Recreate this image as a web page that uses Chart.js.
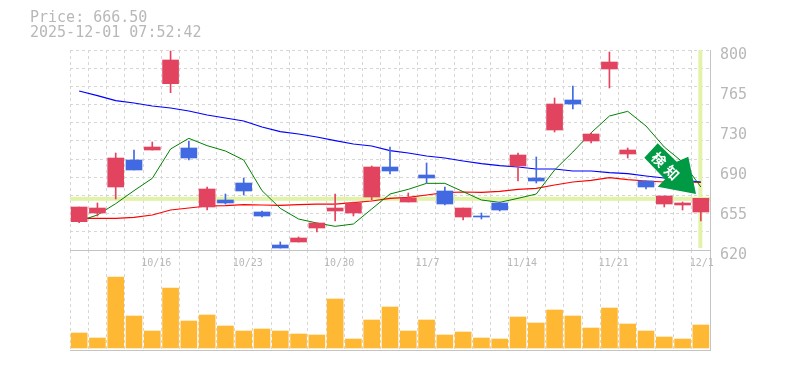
<!DOCTYPE html>
<html>
<head>
<meta charset="utf-8">
<script src="https://cdn.jsdelivr.net/npm/chart.js@4/dist/chart.umd.js"></script>
<style>
    html, body { margin: 0; padding: 0; background: #fff; }
    #wrap { position: relative; width: 785px; height: 370px; overflow: hidden; }
    #wrap canvas { position: absolute; left: 0; }
    #priceChart { top: 0; z-index: 2; }
    #volumeChart { top: 250px; z-index: 1; }
    #info {
        position: absolute; left: 30px; top: 10px; z-index: 3;
        font: 15px/15px "DejaVu Sans Mono", monospace; color: #b8b8b8; white-space: pre;
    }
</style>
</head>
<body>
<div id="wrap">
    <div id="info">Price: 666.50
2025-12-01 07:52:42</div>
    <canvas id="volumeChart" width="785" height="120"></canvas>
    <canvas id="priceChart" width="785" height="275"></canvas>
</div>
<script>
const categories = ["10/9", "10/10", "10/14", "10/15", "10/16", "10/17", "10/20", "10/21", "10/22", "10/23", "10/24", "10/27", "10/28", "10/29", "10/30", "10/31", "11/4", "11/5", "11/6", "11/7", "11/10", "11/11", "11/12", "11/13", "11/14", "11/17", "11/18", "11/19", "11/20", "11/21", "11/25", "11/26", "11/27", "11/28", "12/1"];
const dateLabels = ["10/16", "10/23", "10/30", "11/7", "11/14", "11/21", "12/1"];

const opens = [645.5, 653.3, 676.7, 701, 710, 769.7, 711.8, 658.7, 665, 680.3, 654.2, 624.5, 627.2, 639.8, 655.1, 653.3, 667.7, 694.7, 663.2, 687.5, 673.1, 649.7, 650.6, 662.3, 695.6, 684.8, 728, 755, 718.1, 782.9, 706.4, 682.1, 661.4, 660.5, 654.2];
const closes = [658.7, 657.8, 702.8, 692, 712.7, 791, 702.8, 674.9, 662.3, 673.1, 650.6, 621.8, 630.8, 644.3, 657.8, 662.3, 694.7, 691.1, 666.8, 684.8, 661.4, 657.8, 649.7, 656, 705.5, 682.1, 751.4, 751.4, 724.4, 789.2, 710, 676.7, 668.6, 662.3, 666.5];
const highs = [658.7, 662.3, 707.3, 710, 717.2, 799.1, 718.1, 676.7, 670.4, 684.8, 655.1, 627.2, 631.7, 644.3, 670.4, 663.2, 695.6, 712.7, 671.3, 698.3, 676.7, 657.8, 653.3, 663.2, 707.3, 703.7, 756.8, 767.6, 725.3, 798.2, 711.8, 682.1, 668.6, 663.2, 666.5];
const lows = [644.6, 650.6, 665.9, 692, 710, 761.6, 701, 656, 661.4, 669.5, 649.7, 621.8, 627.2, 636.2, 646.1, 650.6, 665, 688.4, 663.2, 680.3, 660.5, 647, 647.9, 655.1, 682.1, 680.3, 726.2, 746.9, 716.3, 765.8, 702.8, 674.9, 658.7, 656, 646.1];

const longAverage = [763.1, 759, 754.4, 752.3, 749.6, 747.8, 745.1, 741.5, 738.8, 736.1, 730.7, 726.5, 724.4, 721.7, 718.4, 715.4, 713.6, 709.4, 707.3, 704.6, 702.8, 700.1, 697.7, 695.9, 694.7, 692.9, 692.9, 691.1, 691.1, 689.6, 688.7, 686.6, 684.8, 683, 681.2];
const midAverage = [648.4, 648.4, 648.4, 649.4, 651.5, 656, 657.8, 659.6, 659.9, 660.8, 660.5, 660.2, 660.8, 661.2, 661.2, 662.6, 664.1, 666.5, 667.4, 669.5, 671.6, 672.2, 671.9, 672.8, 674.6, 675.5, 678.5, 681.2, 682.6, 685.1, 683.3, 682.1, 681.2, 681.2, 680.8];
const shortAverage = [646.1, 651.5, 661.7, 673.4, 684.5, 710.9, 720.5, 713.9, 709.1, 701, 673.4, 657.5, 647.9, 644.3, 641.3, 643.4, 656.9, 670.4, 674.6, 680, 680, 672.5, 665, 662.9, 666.5, 670.4, 692, 708.2, 725.5, 740.6, 744.8, 731.6, 712.7, 699.2, 676.7];

const volumes = [15, 10, 71, 32, 17, 60, 27, 33, 22, 17, 19, 17, 14, 13, 49, 9, 28, 41, 17, 28, 13, 16, 10, 9, 31, 25, 38, 32, 20, 40, 24, 17, 11, 9, 23];

const priceTicks = [620, 656, 692, 728, 764, 800];
const priceTickLabels = ["620", "655", "690", "730", "765", "800"];
const lastPrice = 666.5;

const upColor = "#e2445f";
const downColor = "#4169e1";
const gridColor = "#d6d6d6";
const axisColor = "#c4c4c4";
const textColor = "#b8b8b8";
const markerColor = "#e2f3a9";
const dash = [3, 3];

// pale cross behind the candles, marks the last candle and its close
const lastPriceLines = {
    id: "lastPriceLines",
    beforeDatasetsDraw(chart) {
        const area = chart.chartArea;
        const ctx = chart.ctx;
        const x = chart.scales.x.getPixelForValue(categories.length - 1);
        const y = chart.scales.y.getPixelForValue(lastPrice);
        ctx.save();
        ctx.fillStyle = markerColor;
        ctx.fillRect(area.left, y - 1.5, area.right - area.left, 4);
        ctx.fillRect(x - 2.5, area.top, 4, area.bottom - area.top - 2);
        ctx.restore();
    },
};

// green signal arrow pointing at the last candle
const signalArrow = {
    id: "signalArrow",
    afterDraw(chart) {
        const ctx = chart.ctx;
        const shape = [[657.7, 143.3], [676.7, 161.7], [688.3, 156.7], [696, 194], [657.7, 186.7], [665, 179.3], [644.3, 157.7]];
        ctx.save();
        ctx.fillStyle = "#009944";
        ctx.beginPath();
        shape.forEach(function (p, i) {
            if (i === 0) ctx.moveTo(p[0], p[1]);
            else ctx.lineTo(p[0], p[1]);
        });
        ctx.closePath();
        ctx.fill();
        ctx.fillStyle = "#fff";
        ctx.font = 'bold 14px "Noto Sans CJK JP"';
        ctx.textAlign = "center";
        ctx.textBaseline = "middle";
        ctx.translate(665.5, 166);
        ctx.rotate(Math.PI / 4);
        ctx.fillText("検", -9.3, 0);
        ctx.fillText("知", 9.3, 0);
        ctx.restore();
    },
};

function fixWidth(width) {
    return function (scale) { scale.width = width; };
}
function fixHeight(height) {
    return function (scale) { scale.height = height; };
}

function xAxis(showLabels, height) {
    return {
        offset: true,
        afterFit: fixHeight(height),
        grid: { color: gridColor, drawTicks: false },
        border: { display: true, color: axisColor, dash: dash },
        ticks: {
            display: showLabels,
            autoSkip: false,
            maxRotation: 0,
            minRotation: 0,
            padding: 7,
            labelOffset: 4,
            color: textColor,
            font: { family: "DejaVu Sans Mono", size: 10 },
            // labels start at the same offset from their candle, short ones are padded
            callback: function (value, i) {
                const name = categories[i];
                return dateLabels.includes(name) ? name.padEnd(5) : "";
            },
        },
    };
}

new Chart(document.getElementById("priceChart"), {
    type: "bar",
    data: {
        labels: categories,
        datasets: [
            {
                data: lows.map((v, i) => [v, highs[i]]),
                backgroundColor: closes.map((v, i) => (v >= opens[i] ? upColor : downColor)),
                barThickness: 1,
                grouped: false,
                order: 2,
            },
            {
                data: opens.map((v, i) => [v, closes[i]]),
                backgroundColor: closes.map((v, i) => (v >= opens[i] ? upColor : downColor)),
                barThickness: 16,
                grouped: false,
                order: 1,
            },
            { type: "line", data: shortAverage, borderColor: "#008000", borderWidth: 1, pointRadius: 0, tension: 0, order: 3 },
            { type: "line", data: longAverage, borderColor: "#0000ff", borderWidth: 1.2, pointRadius: 0, tension: 0, order: 4 },
            { type: "line", data: midAverage, borderColor: "#ff0000", borderWidth: 1.2, pointRadius: 0, tension: 0, order: 5 },
        ],
    },
    options: {
        responsive: false,
        animation: false,
        layout: { autoPadding: false, padding: { top: 50, left: 70 } },
        plugins: { legend: { display: false }, tooltip: { enabled: false } },
        scales: {
            x: xAxis(true, 25),
            // dashed grid only, 11 even rows
            y: {
                position: "left",
                min: 620,
                max: 800,
                afterFit: fixWidth(0),
                ticks: { display: false, stepSize: 180 / 11 },
                grid: { color: gridColor, drawTicks: false },
                border: { display: false, dash: dash },
            },
            // the printed prices do not sit on the grid rows
            priceAxis: {
                position: "right",
                min: 620,
                max: 800,
                afterFit: fixWidth(75),
                afterBuildTicks: function (scale) {
                    scale.ticks = priceTicks.map((v) => ({ value: v }));
                },
                grid: { display: false, drawTicks: false },
                border: { display: true, color: axisColor },
                ticks: {
                    padding: 10,
                    labelOffset: 5,
                    color: textColor,
                    font: { family: "DejaVu Sans Mono", size: 15 },
                    callback: function (value) {
                        return priceTickLabels[priceTicks.indexOf(value)];
                    },
                },
            },
        },
    },
    plugins: [lastPriceLines, signalArrow],
});

new Chart(document.getElementById("volumeChart"), {
    type: "bar",
    data: {
        labels: categories,
        datasets: [{ data: volumes, backgroundColor: "#ffb833", barThickness: 16 }],
    },
    options: {
        responsive: false,
        animation: false,
        layout: { autoPadding: false, padding: { left: 70, bottom: 20 } },
        plugins: { legend: { display: false }, tooltip: { enabled: false } },
        scales: {
            x: xAxis(false, 0),
            y: {
                position: "right",
                min: -2,
                max: 98,
                afterFit: fixWidth(75),
                ticks: { display: false },
                grid: { display: false, drawTicks: false },
                border: { display: true, color: axisColor },
            },
        },
    },
});
</script>
</body>
</html>
